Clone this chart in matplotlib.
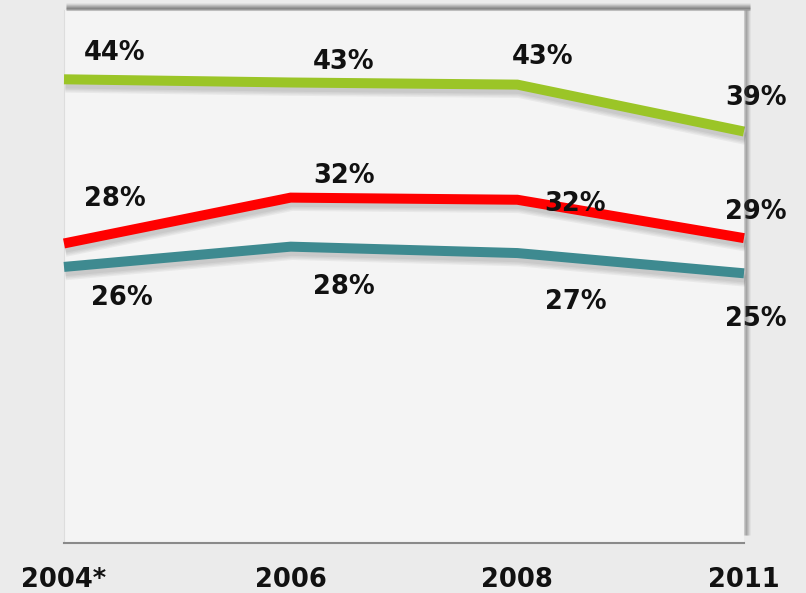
import matplotlib
matplotlib.use("Agg")
import matplotlib.pyplot as plt
import matplotlib.patheffects as pe
from matplotlib.lines import Line2D

categories = ["2004*", "2006", "2008", "2011"]
green_vals = [43.5, 43.2, 43.0, 38.6]
red_vals = [28.1, 32.4, 32.2, 28.6]
teal_vals = [25.9, 27.8, 27.2, 25.3]
green_labels = ["44%", "43%", "43%", "39%"]
red_labels = ["28%", "32%", "32%", "29%"]
teal_labels = ["26%", "28%", "27%", "25%"]

W, H = 806, 593
fig = plt.figure(figsize=(W / 100, H / 100), dpi=100)
fig.patch.set_facecolor("#ebebeb")

L, R, T, B = 64, 744, 10, 543
ax = fig.add_axes([L / W, (H - B) / H, (R - L) / W, (B - T) / H])
ax.set_facecolor("#f4f4f4")

def fx(px):
    return px / W
def fy(py):
    return (H - py) / H
for i, a in enumerate([0.05, 0.09, 0.14, 0.2, 0.26, 0.3]):
    off = 6 - i
    fig.add_artist(Line2D([fx(L + 2), fx(R + 6)], [fy(T - off), fy(T - off)],
                          color="#444444", alpha=a, lw=2.2, solid_capstyle="butt"))
for i, a in enumerate([0.05, 0.08, 0.12, 0.16, 0.2]):
    off = 5 - i
    fig.add_artist(Line2D([fx(R + off), fx(R + off)], [fy(T), fy(B - 8)],
                          color="#444444", alpha=a, lw=2.2, solid_capstyle="butt"))

shadow = [pe.SimpleLineShadow(offset=(1, -3 - k), shadow_color="#333333", alpha=0.06)
          for k in range(4)]

x = list(range(len(categories)))
series = [
    (green_vals, "#9bc527", green_labels, [(51, 26), (53, 20), (25, 28), (12, 34)]),
    (red_vals, "#ff0000", red_labels, [(51, 44), (53, 22), (58, -4), (12, 26)]),
    (teal_vals, "#3e8a90", teal_labels, [(58, -31), (53, -40), (58, -49), (12, -46)]),
]
for vals, col, labs, offs in series:
    ax.plot(x, vals, color=col, lw=7.2, solid_joinstyle="miter", solid_capstyle="butt",
            clip_on=False, zorder=3, path_effects=shadow + [pe.Normal()])
    for xi, v, lab, (dx, dy) in zip(x, vals, labs, offs):
        ax.annotate(lab, (xi, v), xytext=(dx, dy), textcoords="offset pixels",
                    ha="center", va="center", fontsize=18.5, fontweight="bold",
                    color="#111111", zorder=5, annotation_clip=False)

ax.set_xlim(0, len(categories) - 1)
ax.set_ylim(0, 50)
ax.set_yticks([])
ax.set_xticks(x)
ax.set_xticklabels(categories, fontsize=18.5, fontweight="bold", color="#111111")
ax.tick_params(axis="x", length=0, pad=17)
for s in ["top", "right"]:
    ax.spines[s].set_visible(False)
ax.spines["left"].set_color("#dddddd")
ax.spines["left"].set_linewidth(0.8)
ax.spines["bottom"].set_color("#8a8a8a")
ax.spines["bottom"].set_linewidth(1.5)

fig.savefig("out.png", dpi=100, facecolor=fig.get_facecolor())
